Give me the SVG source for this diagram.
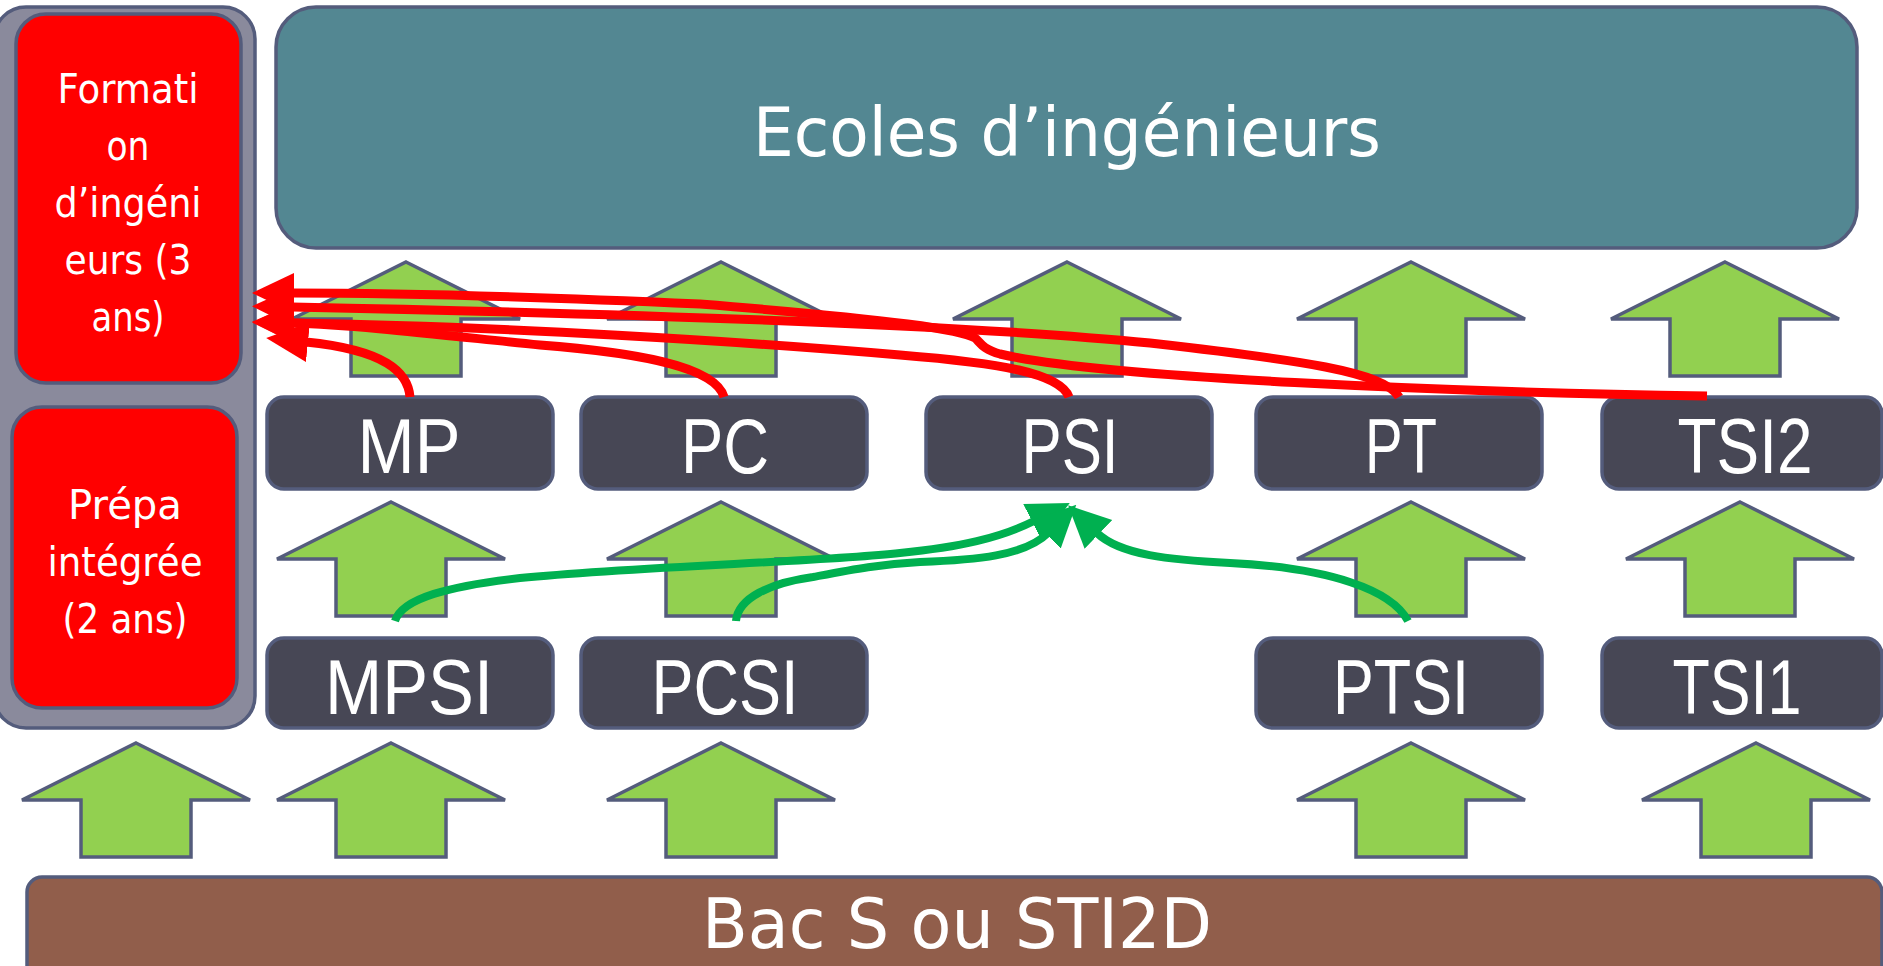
<svg xmlns="http://www.w3.org/2000/svg" xmlns:xlink="http://www.w3.org/1999/xlink" width="1883" height="966" viewBox="0 0 1883 966">
  <style>
    .edge { stroke: #545c7c; stroke-width: 3.5; }
    .panel { fill: #8a8a9c; }
    .red { fill: #ff0000; }
    .dark { fill: #474755; }
    .teal { fill: #538792; }
    .brown { fill: #915e4b; }
    .up { fill: #92d050; stroke: #545c7c; stroke-width: 3.5; stroke-linejoin: miter; }
    .big { font-family: "DejaVu Sans", "Liberation Sans", sans-serif; fill: #ffffff; text-anchor: middle; }
    .lbl { font-family: "Liberation Sans", Arial, sans-serif; font-size: 78px; fill: #ffffff; text-anchor: middle; }
    .side { font-family: "DejaVu Sans", "Liberation Sans", sans-serif; font-size: 41px; fill: #ffffff; text-anchor: middle; }
    .rline { fill: none; stroke: #ff0000; stroke-width: 9; marker-end: url(#ahR); }
    .gline { fill: none; stroke: #00b050; stroke-width: 8; marker-end: url(#ahG); }
  </style>
  <defs>
    <path id="uparrow" d="M0,0 L114,57 L55,57 L55,114 L-55,114 L-55,57 L-114,57 Z"/>
    <marker id="ahR" markerUnits="userSpaceOnUse" markerWidth="42" markerHeight="42" viewBox="0 0 42 42" refX="2" refY="21" orient="auto">
      <path d="M0,1 L42,21 L0,41 Z" fill="#ff0000"/>
    </marker>
    <marker id="ahG" markerUnits="userSpaceOnUse" markerWidth="42" markerHeight="42" viewBox="0 0 42 42" refX="2" refY="21" orient="auto">
      <path d="M0,1 L42,21 L0,41 Z" fill="#00b050"/>
    </marker>
  </defs>

  <rect width="1883" height="966" fill="#ffffff"/>

  <g id="bac">
    <rect class="brown edge" x="27" y="877" width="1855" height="130" rx="15"/>
    <text class="big" x="957" y="948" font-size="70" textLength="510" lengthAdjust="spacingAndGlyphs">Bac S ou STI2D</text>
  </g>

  <g id="ecoles">
    <rect class="teal edge" x="276" y="7" width="1581" height="241" rx="40"/>
    <text class="big" x="1067" y="156" font-size="68" textLength="628" lengthAdjust="spacingAndGlyphs">Ecoles d’ingénieurs</text>
  </g>

  <g id="ecole-integree">
    <rect class="panel edge" x="-6" y="7" width="261" height="721" rx="32"/>
    <g id="formation-ingenieurs">
      <rect class="red edge" x="16" y="14" width="225" height="369" rx="30"/>
      <text class="side" x="128" y="103" textLength="141" lengthAdjust="spacingAndGlyphs">Formati</text>
      <text class="side" x="128" y="160" textLength="43" lengthAdjust="spacingAndGlyphs">on</text>
      <text class="side" x="128" y="217" textLength="147" lengthAdjust="spacingAndGlyphs">d’ingéni</text>
      <text class="side" x="128" y="274" textLength="127" lengthAdjust="spacingAndGlyphs">eurs (3</text>
      <text class="side" x="128" y="331" textLength="73" lengthAdjust="spacingAndGlyphs">ans)</text>
    </g>
    <g id="prepa-integree">
      <rect class="red edge" x="12" y="407" width="225" height="301" rx="30"/>
      <text class="side" x="125" y="519" textLength="114" lengthAdjust="spacingAndGlyphs">Prépa</text>
      <text class="side" x="125" y="576" textLength="155" lengthAdjust="spacingAndGlyphs">intégrée</text>
      <text class="side" x="125" y="633" textLength="125" lengthAdjust="spacingAndGlyphs">(2 ans)</text>
    </g>
  </g>

  <g id="up-arrows">
    <use xlink:href="#uparrow" href="#uparrow" class="up" x="406" y="262"/>
    <use xlink:href="#uparrow" href="#uparrow" class="up" x="721" y="262"/>
    <use xlink:href="#uparrow" href="#uparrow" class="up" x="1067" y="262"/>
    <use xlink:href="#uparrow" href="#uparrow" class="up" x="1411" y="262"/>
    <use xlink:href="#uparrow" href="#uparrow" class="up" x="1725" y="262"/>

    <use xlink:href="#uparrow" href="#uparrow" class="up" x="391" y="502"/>
    <use xlink:href="#uparrow" href="#uparrow" class="up" x="721" y="502"/>
    <use xlink:href="#uparrow" href="#uparrow" class="up" x="1411" y="502"/>
    <use xlink:href="#uparrow" href="#uparrow" class="up" x="1740" y="502"/>

    <use xlink:href="#uparrow" href="#uparrow" class="up" x="136" y="743"/>
    <use xlink:href="#uparrow" href="#uparrow" class="up" x="391" y="743"/>
    <use xlink:href="#uparrow" href="#uparrow" class="up" x="721" y="743"/>
    <use xlink:href="#uparrow" href="#uparrow" class="up" x="1411" y="743"/>
    <use xlink:href="#uparrow" href="#uparrow" class="up" x="1756" y="743"/>
  </g>

  <g id="mp">
    <rect class="dark edge" x="267" y="397" width="286" height="92" rx="17"/>
    <text class="lbl" x="409" y="473" textLength="103" lengthAdjust="spacingAndGlyphs">MP</text>
  </g>
  <g id="pc">
    <rect class="dark edge" x="581" y="397" width="286" height="92" rx="17"/>
    <text class="lbl" x="725" y="473" textLength="88" lengthAdjust="spacingAndGlyphs">PC</text>
  </g>
  <g id="psi">
    <rect class="dark edge" x="926" y="397" width="286" height="92" rx="17"/>
    <text class="lbl" x="1070" y="473" textLength="97" lengthAdjust="spacingAndGlyphs">PSI</text>
  </g>
  <g id="pt">
    <rect class="dark edge" x="1256" y="397" width="286" height="92" rx="17"/>
    <text class="lbl" x="1401" y="473" textLength="72" lengthAdjust="spacingAndGlyphs">PT</text>
  </g>
  <g id="tsi2">
    <rect class="dark edge" x="1602" y="397" width="280" height="92" rx="17"/>
    <text class="lbl" x="1745" y="473" textLength="135" lengthAdjust="spacingAndGlyphs">TSI2</text>
  </g>

  <g id="mpsi">
    <rect class="dark edge" x="267" y="638" width="286" height="90" rx="17"/>
    <text class="lbl" x="409" y="714" textLength="168" lengthAdjust="spacingAndGlyphs">MPSI</text>
  </g>
  <g id="pcsi">
    <rect class="dark edge" x="581" y="638" width="286" height="90" rx="17"/>
    <text class="lbl" x="725" y="714" textLength="147" lengthAdjust="spacingAndGlyphs">PCSI</text>
  </g>
  <g id="ptsi">
    <rect class="dark edge" x="1256" y="638" width="286" height="90" rx="17"/>
    <text class="lbl" x="1401" y="714" textLength="136" lengthAdjust="spacingAndGlyphs">PTSI</text>
  </g>
  <g id="tsi1">
    <rect class="dark edge" x="1602" y="638" width="280" height="90" rx="17"/>
    <text class="lbl" x="1737" y="714" textLength="129" lengthAdjust="spacingAndGlyphs">TSI1</text>
  </g>

  <g id="connectors">
    <path class="gline" d="M395,621 C402,598 450,586 520,578 C640,566 820,562 900,553 C960,547 1000,538 1034,521"/>
    <path class="gline" d="M736,621 C738,598 770,583 813,577 C850,570 880,564 920,562 C975,560 1025,556 1048,533"/>
    <path class="gline" d="M1408,621 C1392,590 1330,568 1230,563 C1170,560 1120,555 1097,533"/>

    <path class="rline" d="M1707,396 C1450,392 1100,378 1000,354 C982,349 980,342 975,338 C962,330 900,320 700,304 C520,296 400,293 292,293"/>
    <path class="rline" d="M1399,397 C1385,372 1300,360 1150,343 C1000,328 750,316 292,307"/>
    <path class="rline" d="M1069,397 C1060,373 1000,363 900,355 C750,342 500,326 292,323"/>
    <path class="rline" d="M724,397 C715,365 630,352 540,345 C450,336 360,325 292,323"/>
    <path class="rline" d="M410,397 C408,372 385,350 306,342"/>
  </g>
</svg>
